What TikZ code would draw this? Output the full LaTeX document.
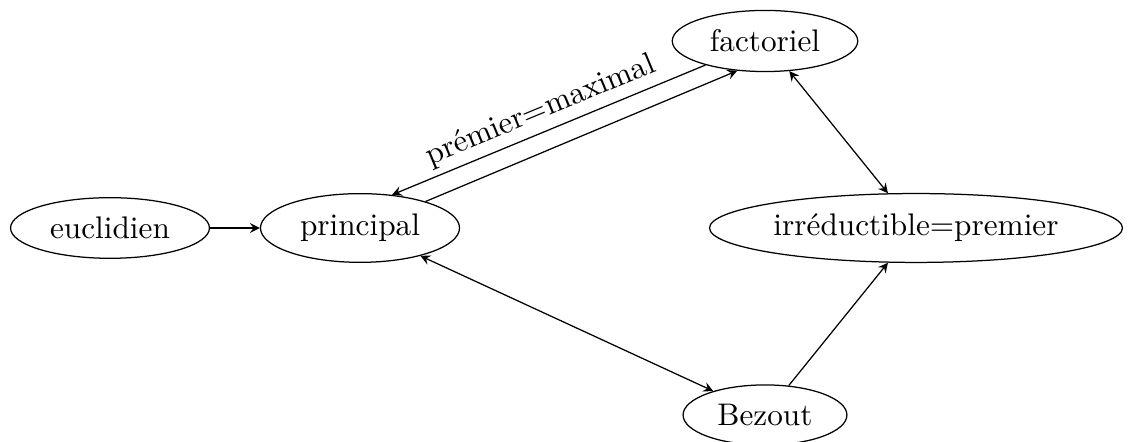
\documentclass[tikz,border=0pt]{standalone}
\usetikzlibrary{shapes.geometric,arrows}
\tikzset{
  nd/.style={ellipse,draw},
  lbl/.style={inner sep=2pt}
}
\begin{document}
\begin{tikzpicture}[x=0.32pt,y=-0.32pt,>=stealth]
\useasboundingbox (0,0) rectangle (1129,442);
\node[nd] (euc) at (110,228) {euclidien};
\node[nd] (pri) at (360,228) {principal};
\node[nd] (fac) at (765,41) {factoriel};
\node[nd,inner xsep=1.1pt] (irr) at (916,228) {irréductible=premier};
\node[nd] (bez) at (765,415) {Bezout};
\draw[->] (euc) -- (pri);
\draw[<-] (pri.46) -- node[lbl,above,sloped] {prémier=maximal} (fac.202);
\draw[->] (pri.22) -- (fac.227);
\draw[<->] (fac) -- (irr);
\draw[<->] (pri) -- (bez);
\draw[->] (bez) -- (irr);
\end{tikzpicture}
\end{document}
